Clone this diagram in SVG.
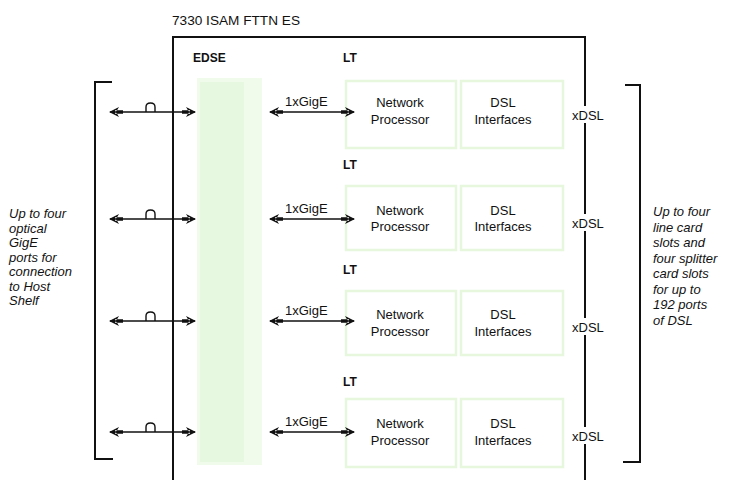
<svg xmlns="http://www.w3.org/2000/svg" width="732" height="480" viewBox="0 0 732 480">
<defs>
<style>
text{font-family:"Liberation Sans",Arial,sans-serif;font-size:13px;fill:#111}
.lbl{font-weight:bold;font-size:12px}
.it{font-style:italic;font-size:13px}
.ctr{text-anchor:middle}
.ln{stroke:#111;stroke-width:2;fill:none}
.ar{stroke:#111;stroke-width:1.6;fill:none;marker-start:url(#ah);marker-end:url(#ah)}
.card{fill:none;stroke:#e6f7de;stroke-width:2.5}
</style>
<marker id="ah" viewBox="-13 -6 15 12" refX="0" refY="0" markerWidth="15" markerHeight="12" markerUnits="userSpaceOnUse" orient="auto-start-reverse">
<path d="M1,0 L-9,-5 L-6,0 L-9,5 Z M-13,-1.8 H-5 V1.8 H-13 Z" fill="#111"/>
</marker>
</defs>
<rect width="732" height="480" fill="#fff"/>

<g id="title"><text x="172" y="25" textLength="128" lengthAdjust="spacingAndGlyphs" style="font-size:12px">7330 ISAM FTTN ES</text></g>

<g id="chassis">
<path class="ln" d="M173,482 V37 H585 V482"/>
</g>

<g id="edse">
<rect x="197" y="78" width="65" height="387" fill="#f0fbeb"/>
<rect x="200" y="82" width="44" height="380" fill="#e6f8df"/>
<text class="lbl" x="193" y="62">EDSE</text>
</g>

<g id="lt1">
<text class="lbl" x="343" y="62">LT</text>
<rect class="card" x="346" y="81" width="110" height="67"/>
<rect class="card" x="461" y="81" width="102" height="67"/>
<text class="ctr" x="400" y="107">Network</text>
<text class="ctr" x="400" y="124">Processor</text>
<text class="ctr" x="503" y="107">DSL</text>
<text class="ctr" x="503" y="124">Interfaces</text>
</g>
<g id="lt2">
<text class="lbl" x="343" y="169">LT</text>
<rect class="card" x="346" y="186" width="110" height="64"/>
<rect class="card" x="461" y="186" width="102" height="64"/>
<text class="ctr" x="400" y="215">Network</text>
<text class="ctr" x="400" y="231">Processor</text>
<text class="ctr" x="503" y="215">DSL</text>
<text class="ctr" x="503" y="231">Interfaces</text>
</g>
<g id="lt3">
<text class="lbl" x="343" y="274">LT</text>
<rect class="card" x="346" y="291" width="110" height="64"/>
<rect class="card" x="461" y="291" width="102" height="64"/>
<text class="ctr" x="400" y="319">Network</text>
<text class="ctr" x="400" y="336">Processor</text>
<text class="ctr" x="503" y="319">DSL</text>
<text class="ctr" x="503" y="336">Interfaces</text>
</g>
<g id="lt4">
<text class="lbl" x="343" y="386">LT</text>
<rect class="card" x="346" y="399" width="110" height="68"/>
<rect class="card" x="461" y="399" width="102" height="68"/>
<text class="ctr" x="400" y="428">Network</text>
<text class="ctr" x="400" y="445">Processor</text>
<text class="ctr" x="503" y="428">DSL</text>
<text class="ctr" x="503" y="445">Interfaces</text>
</g>

<g id="xdsl">
<rect x="571" y="106" width="36" height="17" fill="#fff"/>
<text x="572" y="120">xDSL</text>
<rect x="571" y="214" width="36" height="17" fill="#fff"/>
<text x="572" y="228">xDSL</text>
<rect x="571" y="318" width="36" height="17" fill="#fff"/>
<text x="572" y="332">xDSL</text>
<rect x="571" y="427" width="36" height="17" fill="#fff"/>
<text x="572" y="441">xDSL</text>
</g>

<g id="connectors">
<line class="ar" x1="110" y1="112" x2="195" y2="112"/>
<line class="ar" x1="110" y1="219" x2="195" y2="219"/>
<line class="ar" x1="110" y1="321" x2="195" y2="321"/>
<line class="ar" x1="110" y1="432" x2="195" y2="432"/>
<path class="ln" style="stroke-width:1.4" d="M146,112 V107 Q146,103 150.5,103 Q155,103 155,107 V112 M146,219 V214 Q146,210 150.5,210 Q155,210 155,214 V219 M146,321 V316 Q146,312 150.5,312 Q155,312 155,316 V321 M146,432 V427 Q146,423 150.5,423 Q155,423 155,427 V432"/>
<line class="ar" x1="270" y1="112" x2="354" y2="112"/>
<line class="ar" x1="270" y1="219" x2="354" y2="219"/>
<line class="ar" x1="270" y1="321" x2="354" y2="321"/>
<line class="ar" x1="270" y1="432" x2="354" y2="432"/>
<text x="285" y="106">1xGigE</text>
<text x="285" y="213">1xGigE</text>
<text x="285" y="315">1xGigE</text>
<text x="285" y="426">1xGigE</text>
</g>

<g id="left-bracket">
<path class="ln" d="M112,82 H95 V459 H113"/>
<text class="it" x="9" y="218">Up to four</text>
<text class="it" x="9" y="232.5">optical</text>
<text class="it" x="9" y="247">GigE</text>
<text class="it" x="9" y="261.5">ports for</text>
<text class="it" x="9" y="276">connection</text>
<text class="it" x="9" y="290.5">to Host</text>
<text class="it" x="9" y="305">Shelf</text>
</g>

<g id="right-bracket">
<path class="ln" d="M625,85 H640 V462 H623"/>
<text class="it" x="653" y="216">Up to four</text>
<text class="it" x="653" y="231.5">line card</text>
<text class="it" x="653" y="247">slots and</text>
<text class="it" x="653" y="262.5">four splitter</text>
<text class="it" x="653" y="278">card slots</text>
<text class="it" x="653" y="293.5">for up to</text>
<text class="it" x="653" y="309">192 ports</text>
<text class="it" x="653" y="324.5">of DSL</text>
</g>
</svg>
